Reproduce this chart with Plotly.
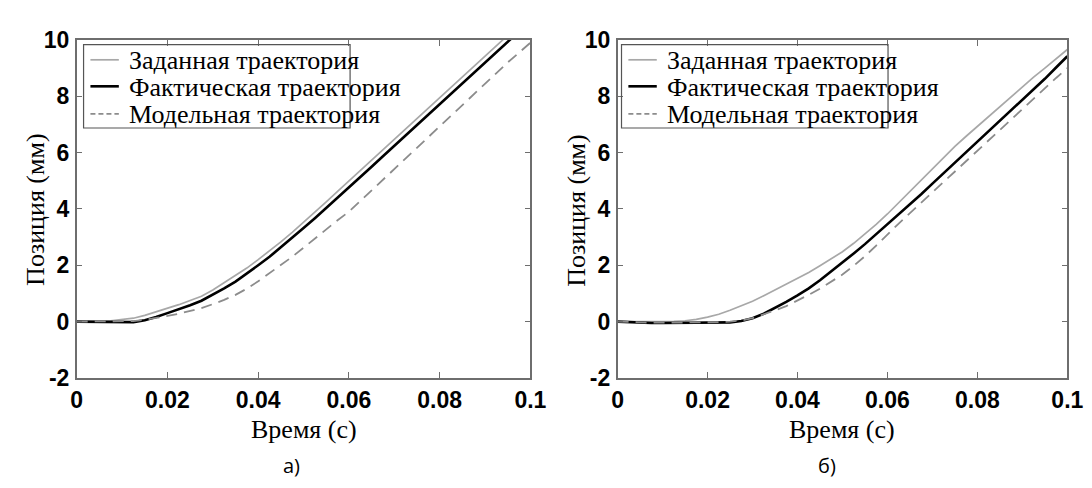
import plotly.graph_objects as go

# ---------------- data ----------------
time_s = [0.0, 0.0025, 0.005, 0.0075, 0.01, 0.0125, 0.015, 0.0175, 0.02, 0.0225,
          0.025, 0.0275, 0.03, 0.0325, 0.035, 0.0375, 0.04, 0.0425, 0.045, 0.0475,
          0.05, 0.0525, 0.055, 0.0575, 0.06, 0.0625, 0.065, 0.0675, 0.07, 0.0725,
          0.075, 0.0775, 0.08, 0.0825, 0.085, 0.0875, 0.09, 0.0925, 0.095, 0.0975, 0.1]

# panel a)
a_desired = [0, 0, 0.01, 0.03, 0.07, 0.12, 0.22, 0.34, 0.47, 0.6,
             0.75, 0.9, 1.12, 1.38, 1.62, 1.9, 2.2, 2.5, 2.83, 3.17,
             3.52, 3.88, 4.25, 4.62, 4.99, 5.36, 5.73, 6.1, 6.47, 6.84,
             7.21, 7.58, 7.95, 8.32, 8.69, 9.06, 9.43, 9.8, 10.17, 10.54, 10.9]
a_actual = [0, 0, 0, 0, 0, -0.02, 0.05, 0.16, 0.3, 0.43,
            0.58, 0.74, 0.95, 1.18, 1.42, 1.7, 2.0, 2.3, 2.63, 2.97,
            3.32, 3.67, 4.03, 4.4, 4.77, 5.14, 5.5, 5.87, 6.24, 6.61,
            6.98, 7.35, 7.72, 8.09, 8.46, 8.83, 9.2, 9.57, 9.94, 10.3, 10.67]
a_model = [0, 0, 0, 0, 0, 0.02, 0.06, 0.12, 0.2, 0.28,
           0.37, 0.48, 0.62, 0.77, 0.95, 1.17, 1.43, 1.72, 2.0, 2.3,
           2.62, 2.95, 3.28, 3.6, 3.9, 4.28, 4.65, 5.02, 5.4, 5.78,
           6.16, 6.55, 6.93, 7.3, 7.68, 8.05, 8.45, 8.83, 9.2, 9.55, 9.9]

# panel б)
b_desired = [0, 0, 0, 0, 0, 0.01, 0.03, 0.08, 0.16, 0.26,
             0.4, 0.56, 0.72, 0.92, 1.12, 1.32, 1.52, 1.74, 1.98, 2.22,
             2.48, 2.78, 3.1, 3.45, 3.82, 4.22, 4.65, 5.05, 5.45, 5.85,
             6.22, 6.58, 6.93, 7.28, 7.64, 8.0, 8.35, 8.68, 9.0, 9.33, 9.66]
b_actual = [0, -0.02, -0.04, -0.05, -0.05, -0.05, -0.05, -0.05, -0.04, -0.04,
            -0.03, 0.02, 0.12, 0.28, 0.48, 0.7, 0.93, 1.18, 1.47, 1.78,
            2.1, 2.42, 2.75, 3.1, 3.45, 3.8, 4.15, 4.52, 4.9, 5.27,
            5.64, 6.0, 6.37, 6.74, 7.11, 7.48, 7.85, 8.23, 8.62, 9.02, 9.42]
b_model = [0, -0.02, -0.03, -0.04, -0.04, -0.04, -0.04, -0.04, -0.03, -0.02,
           0.0, 0.04, 0.12, 0.25, 0.4, 0.55, 0.74, 0.95, 1.17, 1.42,
           1.67, 1.98, 2.32, 2.7, 3.1, 3.48, 3.85, 4.22, 4.6, 4.97,
           5.33, 5.7, 6.07, 6.45, 6.83, 7.2, 7.57, 7.93, 8.3, 8.65, 9.0]

series_names = ["Заданная траектория", "Фактическая траектория", "Модельная траектория"]
x_tickvals = [0, 0.02, 0.04, 0.06, 0.08, 0.1]
x_ticktext = ["0", "0.02", "0.04", "0.06", "0.08", "0.1"]
y_tickvals = [-2, 0, 2, 4, 6, 8, 10]
y_ticktext = ["-2", "0", "2", "4", "6", "8", "10"]
x_title = "Время (c)"
y_title = "Позиция (мм)"
captions = ["а)", "б)"]

# ---------------- layout helpers ----------------
W, H = 1092, 488
def px(x):
    return x / W
def py(y):
    return 1 - y / H

GRAY = "#a8a8a8"
DASH = "#8c8c8c"
AXC = "#6e6e6e"
SERIF = "Liberation Serif"

styles = [
    dict(color=GRAY, width=1.7),
    dict(color="black", width=2.6),
    dict(color=DASH, width=1.8, dash="11px,7px"),
]

fig = go.Figure()
panels = [
    (a_desired, a_actual, a_model, "x", "y"),
    (b_desired, b_actual, b_model, "x2", "y2"),
]
for d, a, m, xa, ya in panels:
    for name, vals, st in zip(series_names, [d, a, m], styles):
        fig.add_trace(go.Scatter(x=time_s, y=vals, mode="lines", name=name,
                                 line=st, xaxis=xa, yaxis=ya, showlegend=False))

plot_left = [64, 616]
plot_right = [527, 1075]
top_px, bot_px = 20, 377

axis_common = dict(showline=True, linecolor=AXC, linewidth=1.5, mirror="ticks",
                   ticks="inside", ticklen=6, tickcolor=AXC, tickwidth=1.2,
                   showgrid=False, zeroline=False,
                   tickfont=dict(family="Liberation Sans", size=23, color="black", weight="bold"))

for i, (xa, ya) in enumerate([("xaxis", "yaxis"), ("xaxis2", "yaxis2")]):
    xid = "x" if i == 0 else "x2"
    yid = "y" if i == 0 else "y2"
    fig.layout[xa] = dict(axis_common, domain=[px(plot_left[i]), px(plot_right[i])],
                          range=[0, 0.1], tickvals=x_tickvals, ticktext=x_ticktext,
                          anchor=yid, ticklabelstandoff=1)
    fig.layout[ya] = dict(axis_common, domain=[py(bot_px), py(top_px)],
                          range=[-2, 10], tickvals=y_tickvals, ticktext=y_ticktext,
                          anchor=xid, ticklabelstandoff=1)

shapes = []
annotations = []
legend_boxes = [(71, 343), (620, 892)]
for i in range(2):
    bx0, bx1 = legend_boxes[i]
    shapes.append(dict(type="rect", xref="paper", yref="paper",
                       x0=px(bx0), x1=px(bx1), y0=py(113), y1=py(25),
                       line=dict(color="#555555", width=1.2), fillcolor="rgba(0,0,0,0)"))
    rows_y = [41, 69, 98]
    for st, ry, name in zip(styles, rows_y, series_names):
        lst = dict(color=st["color"], width=st["width"])
        if "dash" in st:
            lst["dash"] = "5px,3px"
        shapes.append(dict(type="line", xref="paper", yref="paper",
                           x0=px(bx0 + 7), x1=px(bx0 + 36), y0=py(ry), y1=py(ry), line=lst))
        annotations.append(dict(text=name, xref="paper", yref="paper",
                                x=px(bx0 + 44), y=py(ry + 1), xanchor="left", yanchor="middle",
                                showarrow=False,
                                font=dict(family=SERIF, size=26, color="black")))
    cx = (plot_left[i] + plot_right[i]) / 2
    annotations.append(dict(text=x_title, xref="paper", yref="paper", x=px(cx), y=py(432),
                            xanchor="center", yanchor="middle", showarrow=False,
                            font=dict(family=SERIF, size=26, color="black")))
    annotations.append(dict(text=y_title, xref="paper", yref="paper",
                            x=px(plot_left[i] - 42), y=py(200), textangle=-90,
                            xanchor="center", yanchor="middle", showarrow=False,
                            font=dict(family=SERIF, size=26, color="black")))
    annotations.append(dict(text=captions[i], xref="paper", yref="paper",
                            x=px(283 if i == 0 else 830), y=py(470),
                            xanchor="center", yanchor="middle", showarrow=False,
                            font=dict(family="Open Sans", size=20, color="black")))

fig.update_layout(width=W, height=H, margin=dict(l=0, r=0, t=0, b=0),
                  paper_bgcolor="white", plot_bgcolor="white",
                  shapes=shapes, annotations=annotations, showlegend=False)

fig.write_html("out.html")
